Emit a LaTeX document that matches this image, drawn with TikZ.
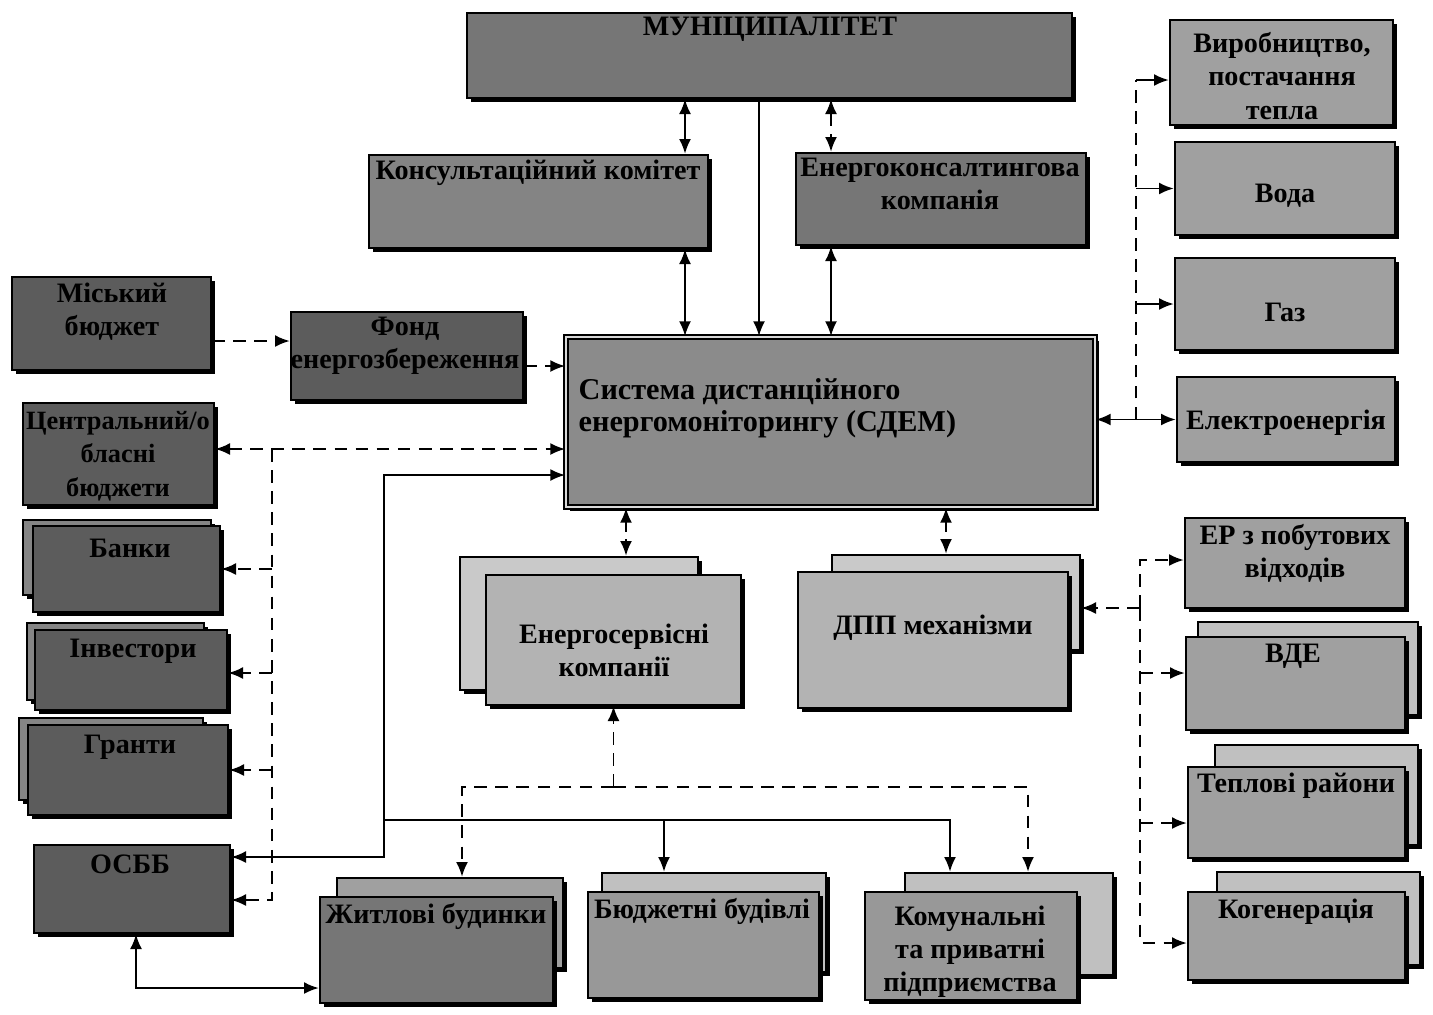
\documentclass[tikz,border=0pt]{standalone}
\usepackage{fontspec}
\setmainfont{Liberation Serif}
\usetikzlibrary{arrows.meta,shadows,fit}

\definecolor{sirtemna}{RGB}{92,92,92}
\definecolor{sirserednia}{RGB}{118,118,118}
\definecolor{sirsvitla}{RGB}{160,160,160}
\definecolor{sirbliada}{RGB}{192,192,192}

\begin{document}
\begin{tikzpicture}[
  x=0.01cm, y=-0.01cm,
  blok/.style={
    rectangle, draw=black, line width=0.7pt,
    inner sep=0pt, align=center,
    font=\fontsize{8}{9.4}\selectfont\bfseries,
    drop shadow={shadow xshift=1.1pt, shadow yshift=-1.1pt, fill=black, opacity=1}
  },
  napys/.style={inner sep=0pt, align=center, font=\fontsize{8}{9.4}\selectfont\bfseries},
  zv/.style={-{Latex[length=4.2pt,width=3.4pt]}, line width=0.55pt},
  dv/.style={{Latex[length=4.2pt,width=3.4pt]}-{Latex[length=4.2pt,width=3.4pt]}, line width=0.55pt},
  shtr/.style={dash pattern=on 3.6pt off 2.4pt}
]
\path[use as bounding box, fill=white] (0,0) rectangle (1433,1014);

% verkh
\node[blok, fill=sirserednia, fit={(467,13) (1072,98)}] (mun) {};
\node[napys] (munN) at (770,29) {МУНІЦИПАЛІТЕТ};
\node[blok, fill=sirserednia!90!white, fit={(369,155) (708,248)}] (kons) {};
\node[napys] (konsN) at (538,173) {Консультаційний комітет};
\node[blok, fill=sirserednia, fit={(796,153) (1086,245)}] (ekons) {};
\node[napys] (ekonsN) at (940,184) {Енергоконсалтингова\\компанія};

% liva kolonka
\node[blok, fill=sirtemna, fit={(12,277) (211,370)}] (mbud) {};
\node[napys] (mbudN) at (112,312) {Міський\\бюджет};
\node[blok, fill=sirtemna, fit={(291,312) (523,400)}] (fond) {};
\node[napys] (fondN) at (405,346) {Фонд\\енергозбереження};
\node[blok, fill=sirtemna, fit={(23,403) (214,505)}] (cbud) {};
\node[napys, font=\fontsize{7.5}{9.6}\selectfont\bfseries] (cbudN) at (118,456)
  {Центральний/о\\бласні\\бюджети};

\node[blok, fill=sirtemna!75!white, fit={(23,520) (211,595)}] (bankyB) {};
\node[blok, fill=sirtemna, fit={(33,526) (220,612)}] (banky) {};
\node[napys] (bankyN) at (130,548) {Банки};
\node[blok, fill=sirtemna!75!white, fit={(27,623) (204,700)}] (investB) {};
\node[blok, fill=sirtemna, fit={(35,630) (227,710)}] (invest) {};
\node[napys] (investN) at (133,651) {Інвестори};
\node[blok, fill=sirtemna!75!white, fit={(19,718) (203,800)}] (grantyB) {};
\node[blok, fill=sirtemna, fit={(28,725) (228,815)}] (granty) {};
\node[napys] (grantyN) at (130,747) {Гранти};
\node[blok, fill=sirtemna, fit={(34,845) (230,933)}] (osbb) {};
\node[napys] (osbbN) at (130,864) {ОСББ};

% tsentr
\node[blok, fill=sirserednia!85!white, fit={(566,337) (1095,507)},
  line width=0.5pt, double=white!70!gray, double distance=0.8pt] (sdem) {};
\node[napys, anchor=west, align=left, font=\fontsize{8.6}{9.2}\selectfont\bfseries]
  (sdemN) at (578,408) {Система дистанційного\\енергомоніторингу (СДЕМ)};

\node[blok, fill=sirbliada!85!white, fit={(460,557) (698,690)}] (escoB) {};
\node[blok, fill=sirsvitla!80!white, fit={(486,575) (741,705)}] (esco) {};
\node[napys] (escoN) at (614,650) {Енергосервісні\\компанії};
\node[blok, fill=sirbliada!85!white, fit={(832,555) (1080,650)}] (dppB) {};
\node[blok, fill=sirsvitla!80!white, fit={(798,572) (1068,708)}] (dpp) {};
\node[napys] (dppN) at (933,628) {ДПП механізми};

% nyz
\node[blok, fill=sirsvitla, fit={(337,878) (563,968)}] (zhytlB) {};
\node[blok, fill=sirserednia, fit={(320,897) (553,1003)}] (zhytl) {};
\node[napys] (zhytlN) at (436,916) {Житлові будинки};
\node[blok, fill=sirbliada, fit={(602,873) (826,972)}] (budzhB) {};
\node[blok, fill=sirserednia!75!white, fit={(588,892) (819,998)}] (budzh) {};
\node[napys] (budzhN) at (702,911) {Бюджетні будівлі};
\node[blok, fill=sirbliada, fit={(905,873) (1113,975)}] (komunB) {};
\node[blok, fill=sirserednia!75!white, fit={(865,892) (1077,1000)}] (komun) {};
\node[napys] (komunN) at (970,952) {Комунальні\\та приватні\\підприємства};

% prava kolonka
\node[blok, fill=sirsvitla, fit={(1170,20) (1393,125)}] (vyrob) {};
\node[napys] (vyrobN) at (1282,76) {Виробництво,\\постачання\\тепла};
\node[blok, fill=sirsvitla, fit={(1175,142) (1395,235)}] (voda) {};
\node[napys] (vodaN) at (1285,196) {Вода};
\node[blok, fill=sirsvitla, fit={(1175,258) (1395,350)}] (gaz) {};
\node[napys] (gazN) at (1285,312) {Газ};
\node[blok, fill=sirsvitla, fit={(1177,377) (1395,462)}] (elek) {};
\node[napys] (elekN) at (1286,423) {Електроенергія};

\node[blok, fill=sirsvitla, fit={(1185,518) (1405,608)}] (erpv) {};
\node[napys] (erpvN) at (1295,553) {ЕР з побутових\\відходів};
\node[blok, fill=sirbliada, fit={(1198,622) (1418,715)}] (vdeB) {};
\node[blok, fill=sirsvitla, fit={(1186,637) (1405,730)}] (vde) {};
\node[napys] (vdeN) at (1293,656) {ВДЕ};
\node[blok, fill=sirbliada, fit={(1215,745) (1418,845)}] (teplB) {};
\node[blok, fill=sirsvitla, fit={(1188,767) (1405,858)}] (tepl) {};
\node[napys] (teplN) at (1296,786) {Теплові райони};
\node[blok, fill=sirbliada, fit={(1217,872) (1420,965)}] (kogenB) {};
\node[blok, fill=sirsvitla, fit={(1188,892) (1405,980)}] (kogen) {};
\node[napys] (kogenN) at (1296,912) {Когенерація};

% dopomizhni tochky
\coordinate (kx) at (685,0);
\coordinate (mx) at (759,0);
\coordinate (ex) at (831,0);
\coordinate (ax) at (626,0);
\coordinate (px) at (946,0);
\coordinate (lx) at (272,0);
\coordinate (sx) at (384,0);
\coordinate (ox) at (136,0);
\coordinate (zx) at (462,0);
\coordinate (bx) at (664,0);
\coordinate (kmx) at (950,0);
\coordinate (kdx) at (1028,0);
\coordinate (rx) at (1136,0);
\coordinate (qx) at (1140,0);
\coordinate (ya) at (0,341);
\coordinate (yb) at (0,366);
\coordinate (yc) at (0,449);
\coordinate (yd) at (0,475);
\coordinate (yo1) at (0,857);
\coordinate (yo2) at (0,900);
\coordinate (yz) at (0,988);
\coordinate (yg) at (0,787);
\coordinate (yh) at (0,820);
\coordinate (yv) at (0,80);
\coordinate (yp) at (0,608);
\coordinate (yr1) at (0,560);
\coordinate (yr2) at (0,673);
\coordinate (yr3) at (0,823);
\coordinate (yr4) at (0,943);

% zv'iazky verkh
\draw[dv] (mun.south -| kx) -- (kons.north -| kx);
\draw[dv] (kons.south -| kx) -- (sdem.north -| kx);
\draw[zv] (mun.south -| mx) -- (sdem.north -| mx);
\draw[dv, shtr] (mun.south -| ex) -- (ekons.north -| ex);
\draw[dv] (ekons.south -| ex) -- (sdem.north -| ex);

% zv'iazky liva storona
\draw[zv, shtr] (mbud.east |- ya) -- (fond.west |- ya);
\draw[zv, shtr] (fond.east |- yb) -- (sdem.west |- yb);
\draw[dv, shtr] (cbud.east |- yc) -- (sdem.west |- yc);
\draw[zv, shtr] (lx |- yc) -- (lx |- yo2) -- (osbb.east |- yo2);
\draw[zv, shtr] (lx |- banky.east) -- (banky.east);
\draw[zv, shtr] (lx |- yr2) -- (invest.east |- yr2);
\draw[zv, shtr] (lx |- granty.east) -- (granty.east);
\draw[dv] (osbb.east |- yo1) -- (sx |- yo1) -- (sx |- yd) -- (sdem.west |- yd);
\draw[dv] (osbb.south -| ox) -- (ox |- yz) -- (zhytl.west |- yz);

% zv'iazky nyz
\draw[dv, densely dashed] (sdem.south -| ax) -- (escoB.north -| ax);
\draw[dv, densely dashed] (sdem.south -| px) -- (dppB.north -| px);
\draw[zv, shtr] (esco.south |- yg) -- (esco.south);
\draw[zv, shtr] (esco.south |- yg) -- (zx |- yg) -- (zhytlB.north -| zx);
\draw[zv, shtr] (esco.south |- yg) -- (kdx |- yg) -- (komunB.north -| kdx);
\draw[zv] (sx |- yh) -- (kmx |- yh) -- (komunB.north -| kmx);
\draw[zv] (bx |- yh) -- (budzhB.north -| bx);

% zv'iazky prava storona
\draw[dv] (sdem.east |- elek.west) -- (elek.west);
\draw[shtr, line width=0.55pt] (rx |- elek.west) -- (rx |- yv);
\draw[zv] (rx |- yv) -- (vyrob.west |- yv);
\draw[zv] (rx |- voda.west) -- (voda.west);
\draw[zv] (rx |- gaz.west) -- (gaz.west);

\draw[zv, shtr] (qx |- yp) -- (dppB.east |- yp);
\draw[zv, shtr] (qx |- yp) -- (qx |- yr1) -- (erpv.west |- yr1);
\draw[zv, shtr] (qx |- yp) -- (qx |- yr4) -- (kogen.west |- yr4);
\draw[zv, shtr] (qx |- yr2) -- (vde.west |- yr2);
\draw[zv, shtr] (qx |- yr3) -- (tepl.west |- yr3);
\end{tikzpicture}
\end{document}
